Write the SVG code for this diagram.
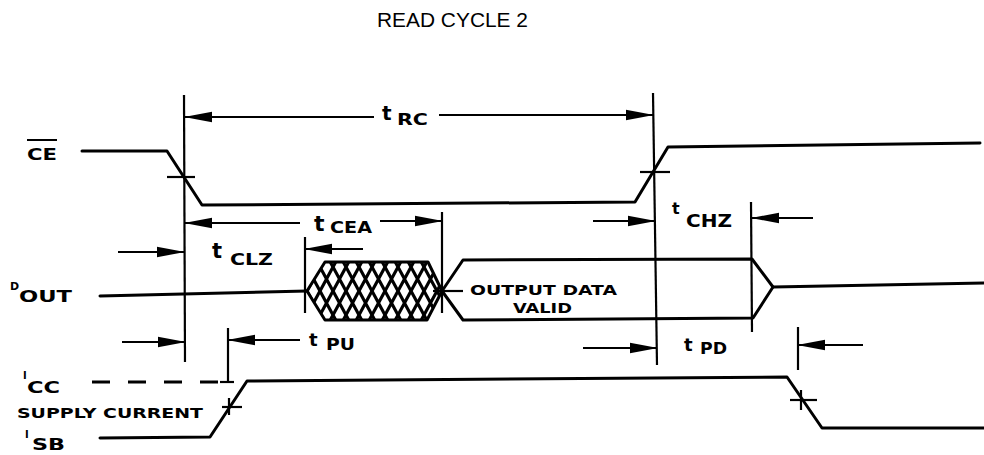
<svg xmlns="http://www.w3.org/2000/svg" width="984" height="455" viewBox="0 0 984 455">
<style>
.w{fill:none;stroke:#000;stroke-width:3;stroke-linejoin:round;stroke-linecap:round}
.v{fill:none;stroke:#000;stroke-width:2.2}
.a{fill:none;stroke:#000;stroke-width:2.2;marker-end:url(#ah)}
.lb{font-family:"DejaVu Sans","Liberation Sans",sans-serif;font-weight:bold;fill:#000}
.t{font-family:"DejaVu Sans","Liberation Sans",sans-serif;font-weight:bold;fill:#000}
.title{font-family:"Liberation Sans",Arial,sans-serif;fill:#000}
</style>
<defs>
<marker id="ah" markerUnits="userSpaceOnUse" markerWidth="28" markerHeight="12" viewBox="0 0 28 12" refX="27" refY="6" orient="auto">
<path d="M0,0.8 L28,6 L0,11.2 z" fill="#000"/>
</marker>
<pattern id="hatch" patternUnits="userSpaceOnUse" x="307" y="267" width="13" height="24">
<path d="M0,0 L13,24 M13,0 L0,24" stroke="#000" stroke-width="3.2" fill="none"/>
<path d="M-1,-1 L1,-1 L1,1 L-1,1 z M12,-1 L14,-1 L14,1 L12,1 z M-1,23 L1,23 L1,25 L-1,25 z M12,23 L14,23 L14,25 L12,25 z" fill="#000"/>
</pattern>
<clipPath id="hexclip"><path d="M307,291 L325,262 L428,262 L442,291 L427,320 L325,320 z"/></clipPath>
</defs>
<rect width="984" height="455" fill="#fff"/>

<text class="title" x="377" y="27" font-size="20" textLength="151" lengthAdjust="spacingAndGlyphs">READ CYCLE 2</text>

<g id="ce">
<text class="lb" x="27" y="160" font-size="15" textLength="30" lengthAdjust="spacingAndGlyphs">CE</text>
<line x1="27" y1="140" x2="57" y2="140" stroke="#000" stroke-width="2"/>
<polyline class="w" points="82,151 167,151 202,205 635,202 668,147 980,143"/>
<line class="v" x1="167" y1="177" x2="195" y2="177"/>
<line class="v" x1="640" y1="172" x2="670" y2="172"/>
</g>

<g id="dout">
<text class="lb" x="10" y="290" font-size="11">D</text>
<text class="lb" x="19" y="302" font-size="16" textLength="53" lengthAdjust="spacingAndGlyphs">OUT</text>
<line class="w" x1="100" y1="296" x2="307" y2="291"/>
<path d="M307,291 L325,262 L428,262 L442,291 L427,320 L325,320 z" fill="#fff"/>
<rect x="300" y="255" width="150" height="70" fill="url(#hatch)" clip-path="url(#hexclip)"/>
<path class="w" d="M307,291 L325,262 L428,262 L442,291 L427,320 L325,320 z"/>
<polyline class="w" points="442,291 463,260 752,259 773,287 753,318 463,320 442,291"/>
<line class="w" x1="773" y1="287" x2="984" y2="283"/>
<line class="v" x1="433" y1="291" x2="463" y2="291"/>
<text class="lb" x="470" y="295" font-size="14" textLength="147" lengthAdjust="spacingAndGlyphs">OUTPUT DATA</text>
<text class="lb" x="513" y="313" font-size="14" textLength="59" lengthAdjust="spacingAndGlyphs">VALID</text>
</g>

<g id="icc">
<text class="lb" x="23" y="379" font-size="10">I</text>
<text class="lb" x="27" y="393" font-size="16" textLength="33" lengthAdjust="spacingAndGlyphs">CC</text>
<text class="lb" x="17" y="418" font-size="14" textLength="186" lengthAdjust="spacingAndGlyphs">SUPPLY CURRENT</text>
<text class="lb" x="25" y="438" font-size="10">I</text>
<text class="lb" x="32" y="450" font-size="16" textLength="33" lengthAdjust="spacingAndGlyphs">SB</text>
<line x1="92" y1="382" x2="228" y2="382" stroke="#000" stroke-width="3" stroke-dasharray="18,18"/>
<line class="v" x1="220" y1="382" x2="234" y2="382"/>
<polyline class="w" points="100,438 210,437 247,381 787,377 822,428 984,428"/>
<line class="v" x1="222" y1="407" x2="242" y2="407"/>
<line class="v" x1="229" y1="398" x2="229" y2="415"/>
<line class="v" x1="790" y1="400" x2="817" y2="400"/>
<line class="v" x1="801" y1="390" x2="801" y2="410"/>
</g>

<g id="connectors">
<line class="v" x1="184" y1="95" x2="185" y2="362"/>
<line class="v" x1="653" y1="93" x2="657" y2="365"/>
<line class="v" x1="442" y1="212" x2="442" y2="313"/>
<line class="v" x1="305" y1="237" x2="305" y2="313"/>
<line class="v" x1="751" y1="202" x2="752" y2="332"/>
<line class="v" x1="228" y1="328" x2="228" y2="383"/>
<line class="v" x1="798" y1="327" x2="798" y2="370"/>

<line class="a" x1="374" y1="117" x2="185" y2="117"/>
<line class="a" x1="439" y1="115" x2="653" y2="115"/>
<line class="a" x1="300" y1="223" x2="185" y2="223"/>
<line class="a" x1="380" y1="221" x2="442" y2="221"/>
<line class="a" x1="118" y1="252" x2="184" y2="252"/>
<line class="a" x1="363" y1="249" x2="305" y2="249"/>
<line class="a" x1="122" y1="342" x2="185" y2="342"/>
<line class="a" x1="300" y1="340" x2="228" y2="340"/>
<line class="a" x1="593" y1="221" x2="655" y2="221"/>
<line class="a" x1="813" y1="218" x2="752" y2="218"/>
<line class="a" x1="583" y1="348" x2="657" y2="348"/>
<line class="a" x1="863" y1="345" x2="798" y2="345"/>
</g>

<g id="labels">
<text class="t" x="382" y="120" font-size="20">t</text>
<text class="lb" x="397" y="125" font-size="16" textLength="31" lengthAdjust="spacingAndGlyphs">RC</text>
<text class="t" x="314" y="231" font-size="22">t</text>
<text class="lb" x="330" y="233" font-size="15" textLength="42" lengthAdjust="spacingAndGlyphs">CEA</text>
<text class="t" x="212" y="258" font-size="21">t</text>
<text class="lb" x="230" y="265" font-size="15" textLength="43" lengthAdjust="spacingAndGlyphs">CLZ</text>
<text class="t" x="309" y="346" font-size="18">t</text>
<text class="lb" x="326" y="350" font-size="15" textLength="29" lengthAdjust="spacingAndGlyphs">PU</text>
<text class="t" x="672" y="214" font-size="16">t</text>
<text class="lb" x="686" y="227" font-size="17" textLength="46" lengthAdjust="spacingAndGlyphs">CHZ</text>
<text class="t" x="684" y="351" font-size="18">t</text>
<text class="lb" x="700" y="354" font-size="15" textLength="27" lengthAdjust="spacingAndGlyphs">PD</text>
</g>
</svg>
